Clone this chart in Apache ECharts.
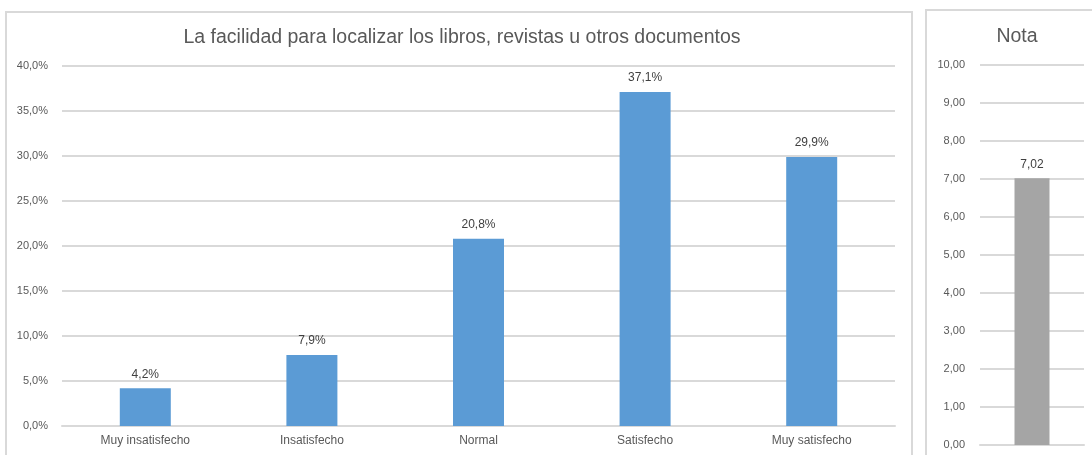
<!DOCTYPE html>
<html>
<head>
<meta charset="utf-8">
<script src="https://cdn.jsdelivr.net/npm/echarts@6/dist/echarts.min.js"></script>
<style>
  html, body { margin: 0; padding: 0; background: #fff; }
  #wrap { position: relative; width: 1092px; height: 455px; overflow: hidden; }
  .panel { position: absolute; border: 2px solid #d9d9d9; box-sizing: border-box; }
  #main { position: absolute; left: 0; top: 0; width: 1092px; height: 455px; }
</style>
</head>
<body>
<div id="wrap">
  <div class="panel" style="left:5px; top:11px; width:908px; height:460px;"></div>
  <div class="panel" style="left:925px; top:9px; width:200px; height:460px;"></div>
  <div id="main"></div>
</div>
<script>
// datos del gráfico
var categorias = ['Muy insatisfecho', 'Insatisfecho', 'Normal', 'Satisfecho', 'Muy satisfecho'];
var porcentajes = [4.2, 7.9, 20.8, 37.1, 29.9];
var notaCategorias = [''];
var notaValores = [7.02];

var fuente = 'Liberation Sans';

function coma(v, d) {
    return v.toFixed(d).replace('.', ',');
}

window.onload = function () {
    var chart = echarts.init(document.getElementById('main'));
    var option = {
        backgroundColor: 'transparent',
        animation: false,
        textStyle: { fontFamily: fuente },
        title: [
            {
                text: 'La facilidad para localizar los libros, revistas u otros documentos',
                left: 457, top: 23, textAlign: 'center',
                textStyle: { fontFamily: fuente, fontSize: 19.5, fontWeight: 'normal', color: '#595959' }
            },
            {
                text: 'Nota',
                left: 1012, top: 22, textAlign: 'center',
                textStyle: { fontFamily: fuente, fontSize: 19.5, fontWeight: 'normal', color: '#595959' }
            }
        ],
        grid: [
            { left: 62, right: 197, top: 66, bottom: 29 },
            { left: 980, right: 8, top: 65, bottom: 10 }
        ],
        xAxis: [
            {
                type: 'category', gridIndex: 0, data: categorias,
                axisLine: { lineStyle: { color: '#d9d9d9', width: 2 } },
                axisTick: { show: false },
                axisLabel: { color: '#595959', fontSize: 12, margin: 9 }
            },
            {
                type: 'category', gridIndex: 1, data: notaCategorias,
                axisLine: { lineStyle: { color: '#d9d9d9', width: 2 } },
                axisTick: { show: false },
                axisLabel: { show: false }
            }
        ],
        yAxis: [
            {
                type: 'value', gridIndex: 0, min: 0, max: 40, interval: 5,
                axisLine: { show: false }, axisTick: { show: false },
                splitLine: { lineStyle: { color: '#d9d9d9', width: 2 } },
                axisLabel: {
                    color: '#595959', fontSize: 11, margin: 14,
                    formatter: function (v) { return coma(v, 1) + '%'; }
                }
            },
            {
                type: 'value', gridIndex: 1, min: 0, max: 10, interval: 1,
                axisLine: { show: false }, axisTick: { show: false },
                splitLine: { lineStyle: { color: '#d9d9d9', width: 2 } },
                axisLabel: {
                    color: '#595959', fontSize: 11, margin: 15,
                    formatter: function (v) { return coma(v, 2); }
                }
            }
        ],
        series: [
            {
                type: 'bar', xAxisIndex: 0, yAxisIndex: 0,
                data: porcentajes, barWidth: 51,
                itemStyle: { color: '#5b9bd5' },
                label: {
                    show: true, position: 'top', distance: 8,
                    color: '#404040', fontSize: 12,
                    formatter: function (p) { return coma(p.value, 1) + '%'; }
                }
            },
            {
                type: 'bar', xAxisIndex: 1, yAxisIndex: 1,
                data: notaValores, barWidth: 35,
                itemStyle: { color: '#a5a5a5' },
                label: {
                    show: true, position: 'top', distance: 8,
                    color: '#404040', fontSize: 12,
                    formatter: function (p) { return coma(p.value, 2); }
                }
            }
        ]
    };
    chart.setOption(option);
};
</script>
</body>
</html>
